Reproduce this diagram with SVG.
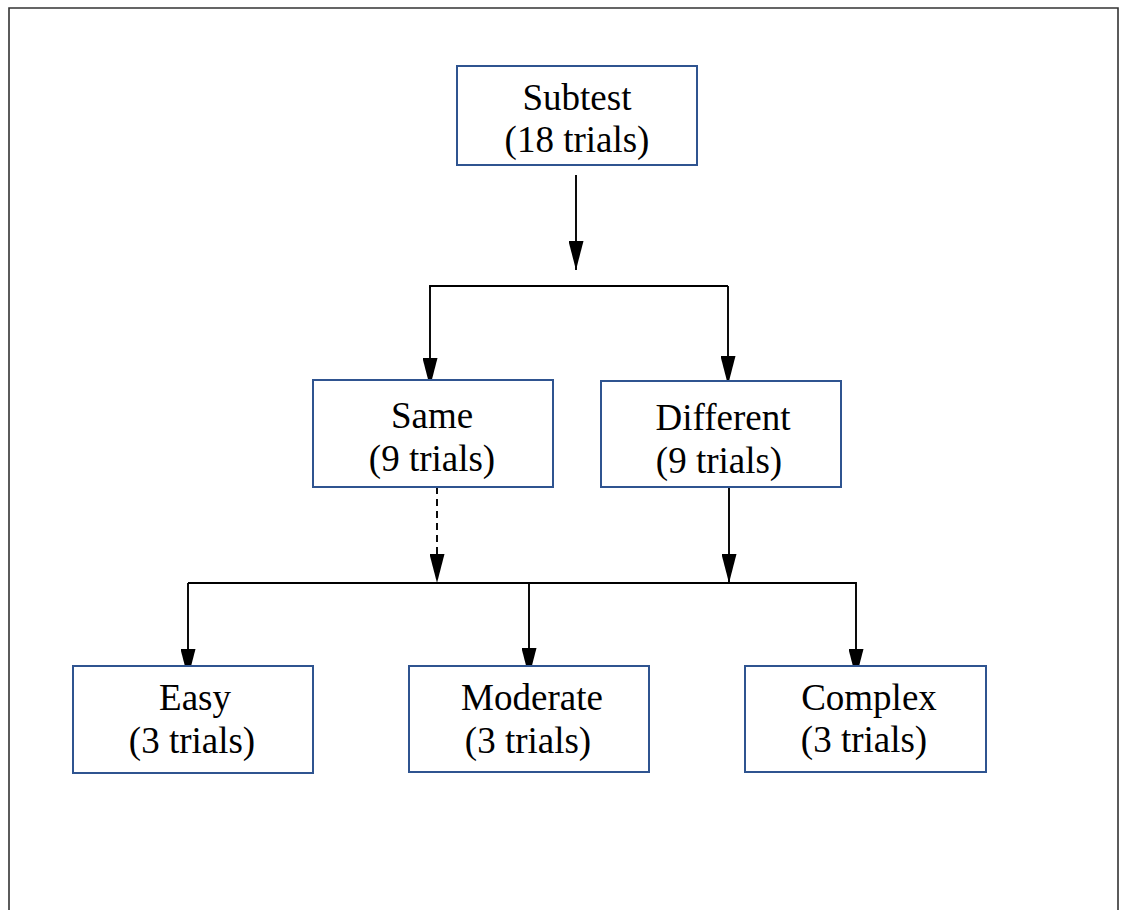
<svg xmlns="http://www.w3.org/2000/svg" width="1129" height="910" viewBox="0 0 1129 910">
  <style>
    .box { fill: #ffffff; stroke: #2f5490; stroke-width: 2; }
    .lbl { font-family: 'Liberation Serif', 'DejaVu Serif', serif; font-size: 37px; fill: #000000; text-anchor: middle; }
    .con { stroke: #000000; stroke-width: 1.9; fill: none; }
    .dash { stroke-dasharray: 7 5; }
  </style>
  <defs>
    <marker id="arr" viewBox="0 0 29 15" refX="29" refY="7.5" markerWidth="29" markerHeight="15" markerUnits="userSpaceOnUse" orient="auto">
      <path d="M0,0 L29,7.5 L0,15 z" fill="#000000"/>
    </marker>
  </defs>
  <rect x="0" y="0" width="1129" height="910" fill="#ffffff"/>
  <path d="M9,910 V8 H1118 V910" fill="none" stroke="#333333" stroke-width="1.6"/>

  <g id="connectors">
    <line class="con" x1="576" y1="175" x2="576" y2="270" marker-end="url(#arr)"/>
    <polyline class="con" points="430,288 430,286 728,286"/>
    <line class="con" x1="430" y1="286" x2="430" y2="387" marker-end="url(#arr)"/>
    <line class="con" x1="728" y1="286" x2="728" y2="385" marker-end="url(#arr)"/>
    <line class="con dash" x1="437" y1="487" x2="437" y2="583" marker-end="url(#arr)"/>
    <line class="con" x1="729" y1="487" x2="729" y2="583" marker-end="url(#arr)"/>
    <line class="con" x1="188" y1="583" x2="856" y2="583"/>
    <line class="con" x1="188" y1="583" x2="188" y2="678" marker-end="url(#arr)"/>
    <line class="con" x1="529" y1="582" x2="529" y2="677" marker-end="url(#arr)"/>
    <line class="con" x1="856" y1="582" x2="856" y2="678" marker-end="url(#arr)"/>
  </g>

  <g id="subtest">
    <rect class="box" x="457" y="66" width="240" height="99"/>
    <text class="lbl" x="577" y="110">Subtest</text>
    <text class="lbl" x="577" y="152">(18 trials)</text>
  </g>
  <g id="same">
    <rect class="box" x="313" y="380" width="240" height="107"/>
    <text class="lbl" x="432" y="428">Same</text>
    <text class="lbl" x="432" y="471">(9 trials)</text>
  </g>
  <g id="different">
    <rect class="box" x="601" y="381" width="240" height="106"/>
    <text class="lbl" x="723" y="430">Different</text>
    <text class="lbl" x="719" y="473">(9 trials)</text>
  </g>
  <g id="easy">
    <rect class="box" x="73" y="666" width="240" height="107"/>
    <text class="lbl" x="195" y="710">Easy</text>
    <text class="lbl" x="192" y="753">(3 trials)</text>
  </g>
  <g id="moderate">
    <rect class="box" x="409" y="666" width="240" height="106"/>
    <text class="lbl" x="532" y="710">Moderate</text>
    <text class="lbl" x="528" y="753">(3 trials)</text>
  </g>
  <g id="complex">
    <rect class="box" x="745" y="666" width="241" height="106"/>
    <text class="lbl" x="869" y="710">Complex</text>
    <text class="lbl" x="864" y="752">(3 trials)</text>
  </g>
</svg>
